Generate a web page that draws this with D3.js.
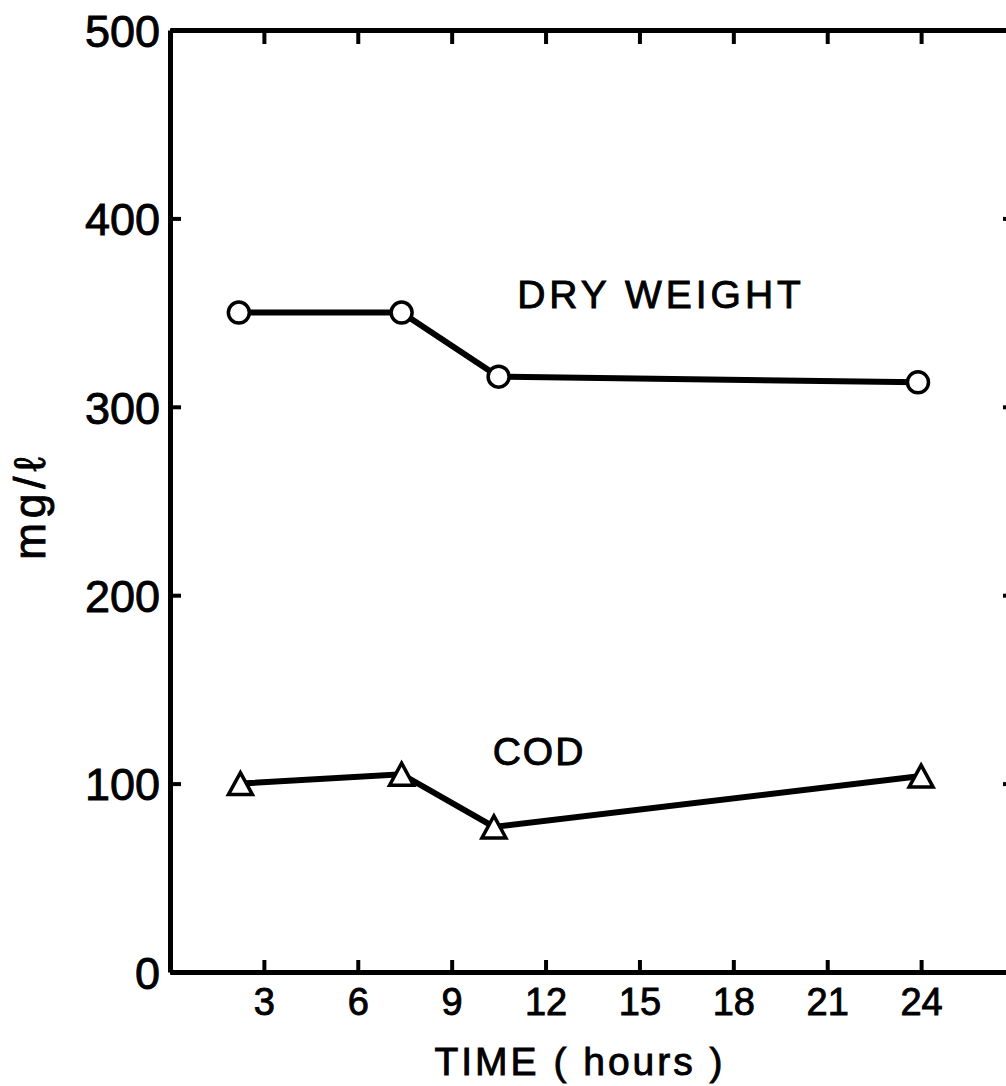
<!DOCTYPE html>
<html>
<head>
<meta charset="utf-8">
<script src="https://cdn.jsdelivr.net/npm/d3@7"></script>
<style>
  html, body { margin: 0; padding: 0; background: #fff; }
  svg { display: block; }
  text { font-family: "Liberation Sans", Arial, sans-serif; fill: #000; stroke: #000; stroke-width: 0.9px; }
</style>
</head>
<body>
<script>
// Sampling times (hours) and measured concentrations (mg/l)
const dryWeightTime = [2.2, 7.4, 10.5, 23.9];
const dryWeight     = [350, 350, 316, 313];
const codTime       = [2.25, 7.4, 10.35, 24];
const cod           = [100, 105, 77, 104];

const xTicks = [3, 6, 9, 12, 15, 18, 21, 24];
const yTicks = [0, 100, 200, 300, 400, 500];

const W = 1006, H = 1086;
const svg = d3.select("body").append("svg").attr("width", W).attr("height", H);

const x = d3.scaleLinear().domain([0, 27]).range([170, 1015]);
const y = d3.scaleLinear().domain([0, 500]).range([972, 30]);

function styleAxis(g) {
  g.select(".domain").attr("stroke", "#000").attr("stroke-width", 5);
  g.selectAll(".tick line").attr("stroke", "#000").attr("stroke-width", 4);
}

// Left axis with labels, ticks pointing into the plot
svg.append("g")
  .attr("transform", `translate(${x(0)},0)`)
  .call(d3.axisLeft(y).tickValues(yTicks).tickSize(-11).tickSizeOuter(0).tickPadding(10))
  .call(styleAxis)
  .call(g => g.selectAll("text").attr("font-size", 45).attr("dy", "0.36em"));

// Right axis, ticks only
svg.append("g")
  .attr("transform", `translate(${x(27)},0)`)
  .call(d3.axisRight(y).tickValues(yTicks.slice(1, -1)).tickSize(-12).tickSizeOuter(0).tickFormat(""))
  .call(styleAxis);

// Bottom axis with labels
svg.append("g")
  .attr("transform", `translate(0,${y(0)})`)
  .call(d3.axisBottom(x).tickValues(xTicks).tickSize(-12).tickSizeOuter(0).tickPadding(16))
  .call(styleAxis)
  .call(g => g.selectAll("text").attr("font-size", 38).attr("dy", "0.71em"));

// Top axis, ticks only
svg.append("g")
  .attr("transform", `translate(0,${y(500)})`)
  .call(d3.axisTop(x).tickValues(xTicks).tickSize(-14).tickSizeOuter(0).tickFormat(""))
  .call(styleAxis);

// Series lines
const line = d3.line().x(d => x(d[0])).y(d => y(d[1]));
const dwPts = dryWeightTime.map((t, i) => [t, dryWeight[i]]);
const codPts = codTime.map((t, i) => [t, cod[i]]);

svg.append("path").datum(dwPts).attr("d", line)
  .attr("fill", "none").attr("stroke", "#000").attr("stroke-width", 6);
svg.append("path").datum(codPts).attr("d", line)
  .attr("fill", "none").attr("stroke", "#000").attr("stroke-width", 6);

// Open circle markers
svg.append("g").selectAll("circle").data(dwPts).join("circle")
  .attr("cx", d => x(d[0])).attr("cy", d => y(d[1])).attr("r", 10.5)
  .attr("fill", "#fff").attr("stroke", "#000").attr("stroke-width", 3.5);

// Open triangle markers
const tri = (cx, cy) => {
  const s = 24, h = 22;
  return `M${cx},${cy - h / 2}L${cx + s / 2},${cy + h / 2}L${cx - s / 2},${cy + h / 2}Z`;
};
svg.append("g").selectAll("path").data(codPts).join("path")
  .attr("d", d => tri(x(d[0]), y(d[1])))
  .attr("fill", "#fff").attr("stroke", "#000").attr("stroke-width", 3.5)
  .attr("stroke-linejoin", "miter");

// Series labels
svg.append("text").attr("x", 661).attr("y", 308).attr("text-anchor", "middle")
  .attr("font-size", 39).attr("letter-spacing", 4).text("DRY WEIGHT");
svg.append("text").attr("x", 539).attr("y", 765).attr("text-anchor", "middle")
  .attr("font-size", 39).attr("letter-spacing", 2).text("COD");

// Axis titles
svg.append("text").attr("x", 580).attr("y", 1075).attr("text-anchor", "middle")
  .attr("font-size", 39).attr("letter-spacing", 3).text("TIME ( hours )");
svg.append("text")
  .attr("transform", "translate(45,506) rotate(-90)")
  .attr("text-anchor", "middle")
  .attr("font-size", 44).attr("letter-spacing", 5).text("mg/ℓ");
</script>
</body>
</html>
